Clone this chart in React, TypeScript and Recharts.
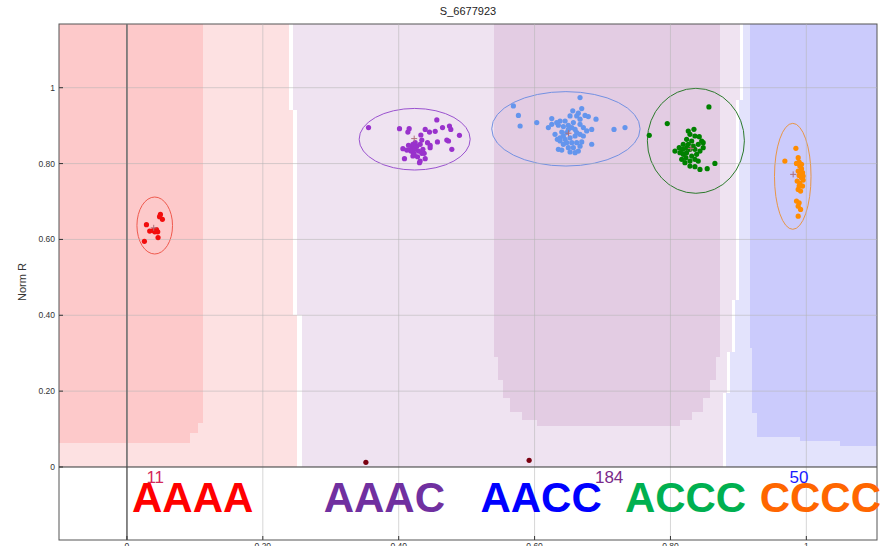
import React from 'react';
import {
  ComposedChart, Scatter, XAxis, YAxis, CartesianGrid,
  ReferenceArea, ReferenceLine, ReferenceDot,
} from 'recharts';

type Pt = { x: number; y: number };
type Box = [number, number, number, number]; // x1, x2, y1, y2

const TITLE = 'S_6677923';
const Y_LABEL = 'Norm R';
const X_TICKS = [0, 0.2, 0.4, 0.6, 0.8, 1];
const Y_TICKS = [0, 0.2, 0.4, 0.6, 0.8, 1];
const X_DOMAIN: [number, number] = [-0.1, 1.104];
const Y_DOMAIN: [number, number] = [-0.1925, 1.168];

const FONT = '"Liberation Sans", Arial, sans-serif';

// call regions, painted back to front
const PINK_LIGHT: Box[] = [
  [-0.1, 0.2389, 0.9412, 1.168],
  [-0.1, 0.2447, 0.4007, 0.9412],
  [-0.1, 0.2506, 0, 0.4007],
];
const LAVENDER: Box[] = [
  [0.2447, 0.9025, 0.9676, 1.168],
  [0.2447, 0.8966, 0.9412, 0.9676],
  [0.2506, 0.8966, 0.4403, 0.9412],
  [0.2506, 0.8907, 0.4007, 0.4403],
  [0.258, 0.8907, 0.3032, 0.4007],
  [0.258, 0.8833, 0.1951, 0.3032],
  [0.258, 0.8775, 0, 0.1951],
];
const BLUE_LIGHT: Box[] = [
  [0.907, 1.104, 0.9676, 1.168],
  [0.901, 1.104, 0.4403, 0.9676],
  [0.8951, 1.104, 0.3032, 0.4403],
  [0.8878, 1.104, 0.1951, 0.3032],
  [0.8819, 1.104, 0, 0.1951],
];
const BLUE_DARK: Box[] = [
  [0.9172, 1.104, 0.3137, 1.168],
  [0.9201, 1.104, 0.1424, 0.3137],
  [0.9275, 1.104, 0.0791, 0.1424],
  [0.9908, 1.104, 0.0685, 0.0791],
  [1.0496, 1.104, 0.0554, 0.0685],
];
const PINK_DARK: Box[] = [
  [-0.1, 0.1123, 0.116, 1.168],
  [-0.1, 0.1049, 0.0896, 0.116],
  [-0.1, 0.0932, 0.0633, 0.0896],
];
const PURPLE_DARK: Box[] = [
  [0.5405, 0.873, 0.29, 1.168],
  [0.5464, 0.8672, 0.2294, 0.29],
  [0.5537, 0.8583, 0.1819, 0.2294],
  [0.564, 0.848, 0.145, 0.1819],
  [0.5817, 0.8319, 0.1239, 0.145],
  [0.6038, 0.8142, 0.1081, 0.1239],
];

const AAAA_PTS: Pt[] = [
  { x: 0.0493, y: 0.666 }, { x: 0.0522, y: 0.653 }, { x: 0.048, y: 0.66 },
  { x: 0.0287, y: 0.639 }, { x: 0.0335, y: 0.622 }, { x: 0.0385, y: 0.6235 },
  { x: 0.0434, y: 0.626 }, { x: 0.0453, y: 0.62 }, { x: 0.041, y: 0.62 },
  { x: 0.0458, y: 0.605 }, { x: 0.0257, y: 0.595 },
];

const AAAC_PTS: Pt[] = [
  { x: 0.3556, y: 0.895 }, { x: 0.4012, y: 0.892 }, { x: 0.4154, y: 0.892 },
  { x: 0.4135, y: 0.883 }, { x: 0.4561, y: 0.915 }, { x: 0.439, y: 0.89 },
  { x: 0.4453, y: 0.883 }, { x: 0.4537, y: 0.885 }, { x: 0.4645, y: 0.895 },
  { x: 0.4747, y: 0.899 }, { x: 0.4767, y: 0.89 }, { x: 0.4894, y: 0.8745 },
  { x: 0.4326, y: 0.8753 }, { x: 0.434, y: 0.862 }, { x: 0.4424, y: 0.855 },
  { x: 0.4463, y: 0.848 }, { x: 0.457, y: 0.857 }, { x: 0.4708, y: 0.862 },
  { x: 0.4733, y: 0.8595 }, { x: 0.4782, y: 0.8375 }, { x: 0.4062, y: 0.8393 },
  { x: 0.4144, y: 0.848 }, { x: 0.4194, y: 0.842 }, { x: 0.4243, y: 0.8393 },
  { x: 0.4267, y: 0.846 }, { x: 0.418, y: 0.833 }, { x: 0.4218, y: 0.8288 },
  { x: 0.4291, y: 0.833 }, { x: 0.434, y: 0.827 }, { x: 0.4375, y: 0.827 },
  { x: 0.439, y: 0.813 }, { x: 0.4316, y: 0.8066 }, { x: 0.4306, y: 0.8023 },
  { x: 0.4277, y: 0.818 }, { x: 0.4209, y: 0.82 }, { x: 0.4085, y: 0.813 },
  { x: 0.4243, y: 0.855 }, { x: 0.4209, y: 0.8507 }, { x: 0.4169, y: 0.8357 },
  { x: 0.412, y: 0.8357 }, { x: 0.4356, y: 0.8375 }, { x: 0.4463, y: 0.842 },
  { x: 0.4228, y: 0.8243 }, { x: 0.4316, y: 0.8507 },
];

const AACC_PTS: Pt[] = [
  { x: 0.5688, y: 0.952 }, { x: 0.5762, y: 0.927 }, { x: 0.5787, y: 0.899 },
  { x: 0.6032, y: 0.908 }, { x: 0.6669, y: 0.974 }, { x: 0.7169, y: 0.89 },
  { x: 0.7331, y: 0.895 }, { x: 0.6904, y: 0.917 }, { x: 0.6841, y: 0.89 },
  { x: 0.6841, y: 0.851 }, { x: 0.6694, y: 0.945 }, { x: 0.6644, y: 0.933 },
  { x: 0.6562, y: 0.939 }, { x: 0.6253, y: 0.9186 }, { x: 0.6375, y: 0.9123 },
  { x: 0.6522, y: 0.9255 }, { x: 0.662, y: 0.9255 }, { x: 0.6743, y: 0.927 },
  { x: 0.6791, y: 0.924 }, { x: 0.6203, y: 0.895 }, { x: 0.6253, y: 0.9036 },
  { x: 0.635, y: 0.901 }, { x: 0.6424, y: 0.8975 }, { x: 0.6497, y: 0.901 },
  { x: 0.6571, y: 0.908 }, { x: 0.6669, y: 0.9036 }, { x: 0.6718, y: 0.895 },
  { x: 0.6767, y: 0.886 }, { x: 0.6473, y: 0.8816 }, { x: 0.64, y: 0.883 },
  { x: 0.6335, y: 0.864 }, { x: 0.6375, y: 0.868 }, { x: 0.6449, y: 0.864 },
  { x: 0.6522, y: 0.868 }, { x: 0.6596, y: 0.8727 }, { x: 0.6669, y: 0.877 },
  { x: 0.6718, y: 0.8727 }, { x: 0.635, y: 0.8375 }, { x: 0.64, y: 0.8357 },
  { x: 0.6497, y: 0.842 }, { x: 0.6522, y: 0.8305 }, { x: 0.6596, y: 0.8288 },
  { x: 0.6644, y: 0.833 }, { x: 0.6473, y: 0.855 }, { x: 0.6547, y: 0.855 },
  { x: 0.662, y: 0.855 }, { x: 0.6694, y: 0.857 }, { x: 0.6424, y: 0.8507 },
  { x: 0.6375, y: 0.8595 }, { x: 0.6301, y: 0.877 }, { x: 0.6596, y: 0.89 },
  { x: 0.6547, y: 0.895 }, { x: 0.6449, y: 0.9123 }, { x: 0.6326, y: 0.908 },
  { x: 0.6669, y: 0.917 }, { x: 0.662, y: 0.8816 }, { x: 0.6497, y: 0.89 },
  { x: 0.6424, y: 0.8727 }, { x: 0.6571, y: 0.842 }, { x: 0.6669, y: 0.846 },
];

const ACCC_PTS: Pt[] = [
  { x: 0.8566, y: 0.9493 }, { x: 0.7953, y: 0.9054 }, { x: 0.7688, y: 0.8745 },
  { x: 0.8654, y: 0.8005 }, { x: 0.8541, y: 0.7865 }, { x: 0.8434, y: 0.7847 },
  { x: 0.836, y: 0.7918 }, { x: 0.8287, y: 0.7934 }, { x: 0.8213, y: 0.8024 },
  { x: 0.8165, y: 0.8111 }, { x: 0.8066, y: 0.833 }, { x: 0.8129, y: 0.842 },
  { x: 0.8188, y: 0.8507 }, { x: 0.8238, y: 0.8639 }, { x: 0.8287, y: 0.8771 },
  { x: 0.8346, y: 0.8904 }, { x: 0.8262, y: 0.8859 }, { x: 0.836, y: 0.8727 },
  { x: 0.8424, y: 0.871 }, { x: 0.8459, y: 0.8595 }, { x: 0.8409, y: 0.8507 },
  { x: 0.8335, y: 0.8463 }, { x: 0.8287, y: 0.8375 }, { x: 0.8238, y: 0.8288 },
  { x: 0.8188, y: 0.8243 }, { x: 0.8312, y: 0.8198 }, { x: 0.8385, y: 0.8243 },
  { x: 0.8434, y: 0.833 }, { x: 0.8482, y: 0.842 }, { x: 0.836, y: 0.8111 },
  { x: 0.8287, y: 0.8066 }, { x: 0.8228, y: 0.8156 }, { x: 0.8179, y: 0.8375 },
  { x: 0.814, y: 0.8288 }, { x: 0.8262, y: 0.8507 }, { x: 0.836, y: 0.8375 },
  { x: 0.8482, y: 0.8552 }, { x: 0.8409, y: 0.8066 }, { x: 0.8238, y: 0.842 },
  { x: 0.8312, y: 0.8595 },
];

const CCCC_PTS: Pt[] = [
  { x: 0.9846, y: 0.8402 }, { x: 0.9684, y: 0.8066 }, { x: 0.988, y: 0.8156 },
  { x: 0.9894, y: 0.804 }, { x: 0.9855, y: 0.8005 }, { x: 0.9904, y: 0.7934 },
  { x: 0.9929, y: 0.7865 }, { x: 0.988, y: 0.7802 }, { x: 0.9944, y: 0.776 },
  { x: 0.9894, y: 0.7688 }, { x: 0.9929, y: 0.7627 }, { x: 0.9953, y: 0.7564 },
  { x: 0.9865, y: 0.7538 }, { x: 0.9904, y: 0.7477 }, { x: 0.9944, y: 0.7406 },
  { x: 0.988, y: 0.7318 }, { x: 0.9915, y: 0.7274 }, { x: 0.9855, y: 0.701 },
  { x: 0.9894, y: 0.6967 }, { x: 0.988, y: 0.6877 }, { x: 0.9915, y: 0.679 },
  { x: 0.988, y: 0.6613 }, { x: 0.9929, y: 0.7979 }, { x: 0.9915, y: 0.7776 },
  { x: 0.9953, y: 0.767 }, { x: 0.9894, y: 0.7406 },
];

const NO_CALL_PTS: Pt[] = [
  { x: 0.3517, y: 0.0124 },
  { x: 0.592, y: 0.0177 },
];

// cluster means (small crosses)
const CENTROIDS: Pt[] = [
  { x: 0.0394, y: 0.6306 },
  { x: 0.4228, y: 0.8658 },
  { x: 0.65, y: 0.88 },
  { x: 0.83, y: 0.84 },
  { x: 0.9806, y: 0.7715 },
];

// ellipses: cx, cy, rx, ry
const ELLIPSES: [number, number, number, number][] = [
  [0.0409, 0.6367, 0.0262, 0.0751],
  [0.4235, 0.8642, 0.0817, 0.0812],
  [0.6461, 0.8916, 0.1092, 0.0981],
  [0.8374, 0.86, 0.0714, 0.1384],
  [0.98, 0.7664, 0.0269, 0.1397],
];

const GENOTYPES = ['AAAA', 'AAAC', 'AACC', 'ACCC', 'CCCC'];
const GENOTYPE_X = [0.0968, 0.3789, 0.6096, 0.8222, 1.0206];
const GENOTYPE_Y = -0.1178;

const COUNTS = ['11', '184', '50'];
const COUNT_X = [0.0416, 0.7097, 0.9893];
const COUNT_Y = -0.0422;

const POINT_COLORS = ['#f20d0d', '#9932cc', '#6495ed', '#008000', '#ff8c00'];
const RING_COLORS = ['#ef5a4e', '#9a52cf', '#7391e2', '#2c7a2c', '#e89646'];
const LABEL_COLORS = ['#ff0000', '#7030a0', '#0000ff', '#00b050', '#ff6600'];
const COUNT_COLORS = ['#d42a5a', '#7a2a8a', '#1a1aff'];

const CLUSTER_PTS = [AAAA_PTS, AAAC_PTS, AACC_PTS, ACCC_PTS, CCCC_PTS];

const REGION_LAYERS: { boxes: Box[]; fill: string }[] = [
  { boxes: PINK_LIGHT, fill: '#fde1e2' },
  { boxes: LAVENDER, fill: '#efe3f1' },
  { boxes: BLUE_LIGHT, fill: '#e3e3fc' },
  { boxes: PINK_DARK, fill: '#fdc9ca' },
  { boxes: PURPLE_DARK, fill: '#e3cce3' },
  { boxes: BLUE_DARK, fill: '#cbcbfc' },
];

const fmtTick = (v: number) => (v === 0 ? '0' : v === 1 ? '1' : v.toFixed(2));

const band = (fill: string) => (p: any) => (
  <rect x={p.x} y={p.y} width={p.width} height={p.height} fill={fill} shapeRendering="crispEdges" />
);

const ring = (stroke: string) => (p: any) => (
  <ellipse
    cx={p.x + p.width / 2} cy={p.y + p.height / 2}
    rx={p.width / 2} ry={p.height / 2}
    fill="none" stroke={stroke} strokeWidth={1}
  />
);

const dot = (fill: string) => (p: any) => <circle cx={p.cx} cy={p.cy} r={2.6} fill={fill} />;

const cross = (p: any) => (
  <g stroke="#b0707a" strokeWidth={1}>
    <line x1={p.cx - 3} x2={p.cx + 3} y1={p.cy} y2={p.cy} />
    <line x1={p.cx} x2={p.cx} y1={p.cy - 3} y2={p.cy + 3} />
  </g>
);

const XTick = ({ x, y, payload }: any) => (
  <g>
    <line x1={x} x2={x} y1={y - 4} y2={y} stroke="#333" />
    <text x={x} y={y + 3} dy="0.71em" textAnchor="middle" fontSize={8.5} fill="#333" fontFamily={FONT}>
      {fmtTick(payload.value)}
    </text>
  </g>
);

const YTick = ({ x, y, payload }: any) => (
  <g>
    <line x1={x} x2={x + 4} y1={y} y2={y} stroke="#333" />
    <text x={x - 4} y={y} dy="0.35em" textAnchor="end" fontSize={8.5} fill="#333" fontFamily={FONT}>
      {fmtTick(payload.value)}
    </text>
  </g>
);

const textMark = (value: string, fill: string, size: number, bold: boolean) => (p: any) => (
  <text x={p.cx} y={p.cy} textAnchor="middle" fontSize={size} fontWeight={bold ? 700 : 400}
    fill={fill} fontFamily={FONT}>
    {value}
  </text>
);

export default function App() {
  return (
    <div style={{ position: 'absolute', left: 0, top: 0, width: 888, height: 546, overflow: 'hidden', background: '#fff' }}>
      <div style={{
        position: 'absolute', left: 59, top: 5, width: 818, textAlign: 'center',
        fontFamily: FONT, fontSize: 11, color: '#222',
      }}>
        {TITLE}
      </div>
      <ComposedChart width={888} height={570} margin={{ top: 24, right: 11, bottom: 10, left: 0 }}>
        <XAxis type="number" dataKey="x" domain={X_DOMAIN} ticks={X_TICKS} allowDataOverflow
          axisLine={false} tickLine={false} tickSize={0} tickMargin={0} height={20} tick={<XTick />} />
        <YAxis type="number" dataKey="y" domain={Y_DOMAIN} ticks={Y_TICKS} allowDataOverflow
          axisLine={false} tickLine={false} tickSize={0} tickMargin={0} width={59} tick={<YTick />}
          label={{
            value: Y_LABEL,
            content: (p: any) => {
              const vb = p.viewBox || { x: 0, y: 24, width: 59, height: 516 };
              const cx = vb.x + 22;
              const cy = vb.y + vb.height / 2;
              return (
                <text transform={`translate(${cx},${cy}) rotate(-90)`} textAnchor="middle" dy="0.35em"
                  fontSize={11} fill="#333" fontFamily={FONT}>
                  {Y_LABEL}
                </text>
              );
            },
          }} />

        {REGION_LAYERS.map((layer, li) =>
          layer.boxes.map((b, bi) => (
            <ReferenceArea key={`r${li}-${bi}`} x1={b[0]} x2={b[1]} y1={b[2]} y2={b[3]}
              ifOverflow="visible" shape={band(layer.fill)} />
          ))
        )}

        <CartesianGrid stroke="#b4b4b4" strokeOpacity={0.55} horizontalValues={Y_TICKS} verticalValues={X_TICKS} zIndex={150} />

        <ReferenceLine x={0} stroke="#707070" strokeWidth={1.6} ifOverflow="visible" />
        <ReferenceLine y={0} stroke="#444" strokeWidth={1} ifOverflow="visible" />

        {ELLIPSES.map((e, i) => (
          <ReferenceArea key={`e${i}`} x1={e[0] - e[2]} x2={e[0] + e[2]} y1={e[1] - e[3]} y2={e[1] + e[3]}
            ifOverflow="visible" shape={ring(RING_COLORS[i])} />
        ))}

        {CLUSTER_PTS.map((pts, i) => (
          <Scatter key={`s${i}`} data={pts} shape={dot(POINT_COLORS[i])} isAnimationActive={false} />
        ))}
        <Scatter data={NO_CALL_PTS} shape={dot('#7a0010')} isAnimationActive={false} />
        <Scatter data={CENTROIDS} shape={cross} isAnimationActive={false} />

        {GENOTYPES.map((g, i) => (
          <ReferenceDot key={g} x={GENOTYPE_X[i]} y={GENOTYPE_Y} r={0} ifOverflow="visible"
            shape={textMark(g, LABEL_COLORS[i], 42, true)} />
        ))}
        {COUNTS.map((c, i) => (
          <ReferenceDot key={`c${i}`} x={COUNT_X[i]} y={COUNT_Y} r={0} ifOverflow="visible"
            shape={textMark(c, COUNT_COLORS[i], 17, false)} />
        ))}

        {/* plot frame */}
        <ReferenceArea x1={X_DOMAIN[0]} x2={X_DOMAIN[1]} y1={Y_DOMAIN[0]} y2={Y_DOMAIN[1]} ifOverflow="visible"
          shape={(p: any) => (
            <rect x={p.x} y={p.y} width={p.width} height={p.height} fill="none" stroke="#555" strokeWidth={1} />
          )} />
      </ComposedChart>
    </div>
  );
}
